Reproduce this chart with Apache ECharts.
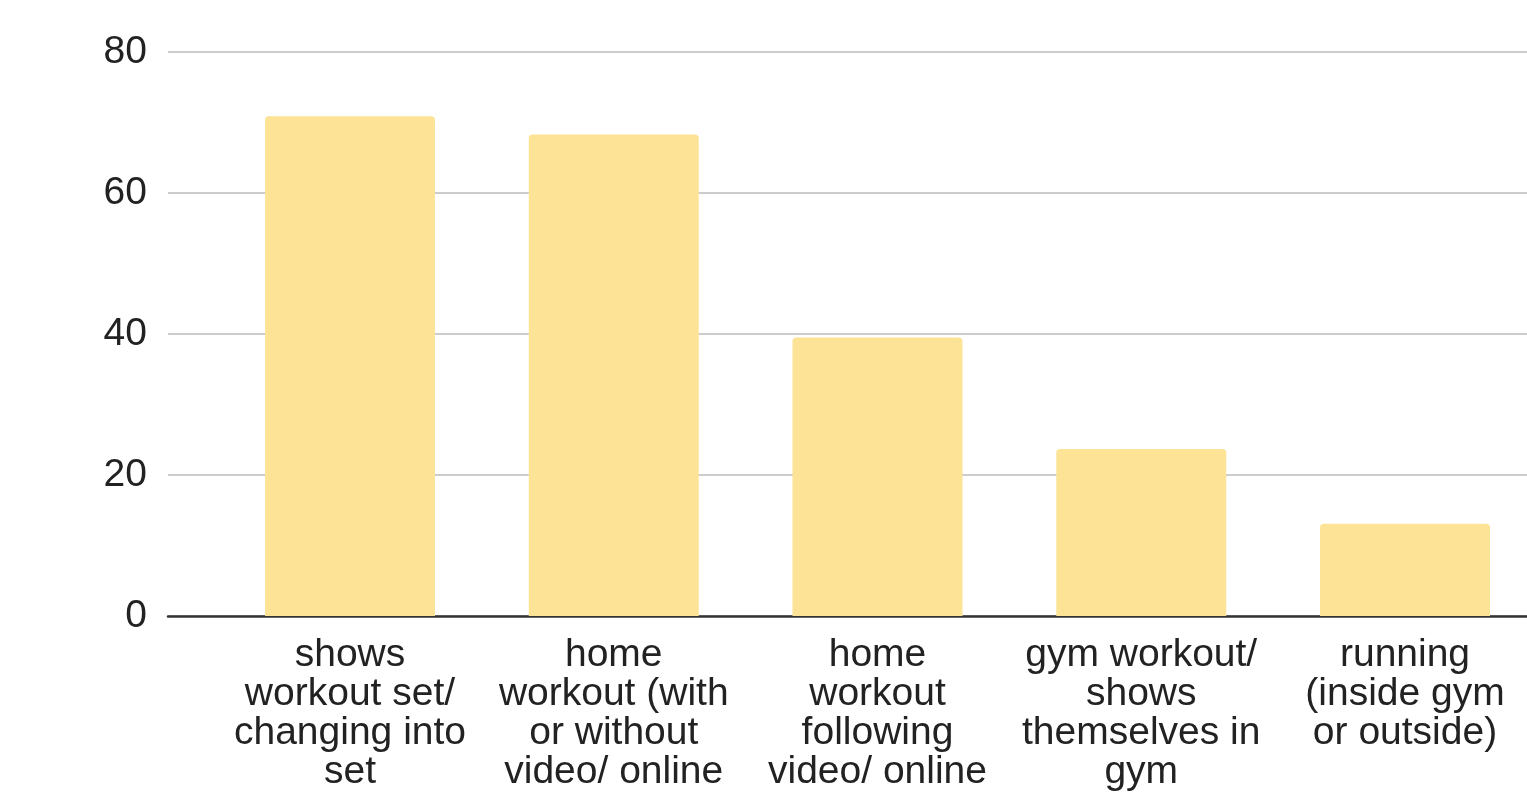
<!DOCTYPE html>
<html>
<head>
<meta charset="utf-8">
<title>Workout content categories</title>
<script src="https://cdn.jsdelivr.net/npm/echarts@6/dist/echarts.min.js"></script>
<style>
  html, body { margin: 0; padding: 0; background: #ffffff; }
  #chart { width: 1527px; height: 792px; }
</style>
</head>
<body>
<div id="chart"></div>
<script>
// Category names (line breaks as shown under each bar)
const categories = [
  'shows\nworkout set/\nchanging into\nset',
  'home\nworkout (with\nor without\nvideo/ online',
  'home\nworkout\nfollowing\nvideo/ online',
  'gym workout/\nshows\nthemselves in\ngym',
  'running\n(inside gym\nor outside)'
];

// Count per category
const counts = [70.9, 68.3, 39.5, 23.7, 13.1];

// Value axis range and tick step
const yMin = 0;
const yMax = 80;
const yStep = 20;

const FONT = '"Liberation Sans", Arial, sans-serif';

const chart = echarts.init(document.getElementById('chart'), null, { renderer: 'canvas' });

chart.setOption({
  backgroundColor: '#ffffff',
  animation: false,
  grid: [
    // full-width grid carrying gridlines, baseline and value labels
    { left: 168, right: 0, top: 52, bottom: 176 },
    // grid whose left/right edges sit on the first/last bar centres
    { left: 350, right: 122, top: 52, bottom: 176 }
  ],
  xAxis: [
    {
      gridIndex: 0,
      type: 'category',
      data: [''],
      axisLine: { show: true, lineStyle: { color: '#333333', width: 2.5 } },
      axisTick: { show: false },
      axisLabel: { show: false }
    },
    {
      gridIndex: 1,
      type: 'category',
      data: categories,
      boundaryGap: false,
      axisLine: { show: false },
      axisTick: { show: false },
      axisLabel: {
        interval: 0,
        margin: 20,
        fontFamily: FONT,
        fontSize: 39,
        lineHeight: 39,
        color: '#222222',
        align: 'center'
      }
    }
  ],
  yAxis: [
    {
      gridIndex: 0,
      type: 'value',
      min: yMin,
      max: yMax,
      interval: yStep,
      axisLine: { show: false },
      axisTick: { show: false },
      splitLine: { show: true, lineStyle: { color: '#cccccc', width: 2 } },
      axisLabel: {
        margin: 21,
        fontFamily: FONT,
        fontSize: 39,
        color: '#222222',
        padding: [0, 0, 6, 0]
      }
    },
    {
      gridIndex: 1,
      type: 'value',
      min: yMin,
      max: yMax,
      interval: yStep,
      show: false,
      splitLine: { show: false }
    }
  ],
  series: [
    {
      type: 'bar',
      xAxisIndex: 1,
      yAxisIndex: 1,
      data: counts,
      barWidth: 170,
      clip: false,
      itemStyle: { color: '#fde396', borderRadius: [4, 4, 0, 0] }
    }
  ]
});
</script>
</body>
</html>
